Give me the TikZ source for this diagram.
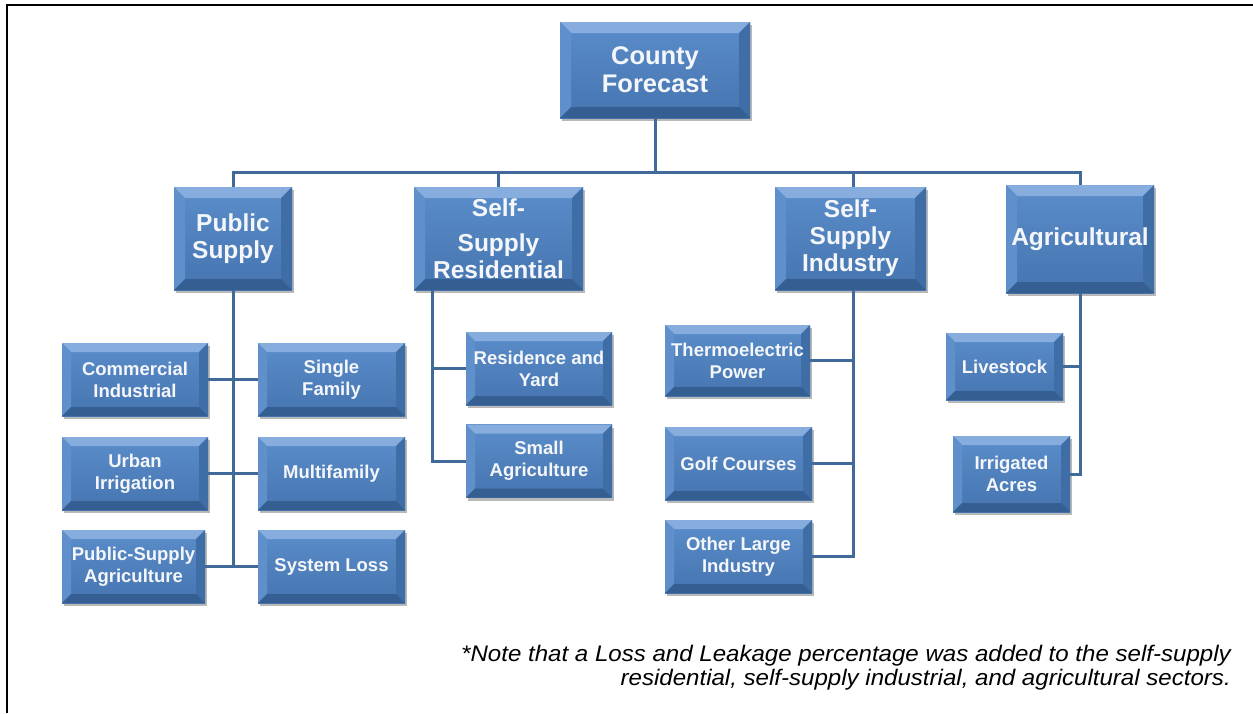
\documentclass[tikz,border=0pt]{standalone}
\usepackage{fontspec}
\setmainfont{Liberation Sans}
\usetikzlibrary{calc,shadows}
\definecolor{facetop}{HTML}{5A8DCA}
\definecolor{facebot}{HTML}{4675B0}
\definecolor{bevtop}{HTML}{86ADDD}
\definecolor{bevleft}{HTML}{5F90CC}
\definecolor{bevright}{HTML}{3F6EA7}
\definecolor{bevbot}{HTML}{355F93}
\definecolor{connc}{HTML}{41699A}
\definecolor{boxtext}{HTML}{F4F6F9}
\newcommand\bevelpaint[1]{%
  \path (path picture bounding box.south west) coordinate (@sw)
        (path picture bounding box.north east) coordinate (@ne)
        (path picture bounding box.north west) coordinate (@nw)
        (path picture bounding box.south east) coordinate (@se);
  \shade[top color=facetop,bottom color=facebot] (@sw) rectangle (@ne);
  \fill[bevtop] (@nw) -- (@ne) -- ($(@ne)+(-#1,-#1)$) -- ($(@nw)+(#1,-#1)$) -- cycle;
  \fill[bevleft] (@nw) -- (@sw) -- ($(@sw)+(#1,#1)$) -- ($(@nw)+(#1,-#1)$) -- cycle;
  \fill[bevright] (@ne) -- (@se) -- ($(@se)+(-#1,#1)$) -- ($(@ne)+(-#1,-#1)$) -- cycle;
  \fill[bevbot] (@sw) -- (@se) -- ($(@se)+(-#1,#1)$) -- ($(@sw)+(#1,#1)$) -- cycle;
}
\tikzset{
  bevelbox/.style={rectangle, inner sep=0pt, text=boxtext, align=center,
    fill=facebot,
    drop shadow={shadow xshift=1.5pt, shadow yshift=-3pt, opacity=0.28, fill=black},
    path picture={\bevelpaint{#1}}},
  bigbox/.style={bevelbox=11pt, font=\fontsize{24.5}{27}\selectfont\bfseries},
  smallbox/.style={bevelbox=9pt, font=\fontsize{18.5}{22}\selectfont\bfseries},
  sz/.style 2 args={minimum width=#1pt, minimum height=#2pt},
  conn/.style={draw=connc, line width=3pt},
  notetext/.style={anchor=base east, inner sep=0pt, font=\fontsize{22.5}{25}\selectfont\itshape}
}
\begin{document}
\begin{tikzpicture}[x=1pt,y=-1pt]
\useasboundingbox (0,0) rectangle (1253,713);
\draw[line width=2.5pt] (1253,5) -- (7,5) -- (7,713);

% top level
\node[bigbox, sz={190}{96}, font=\fontsize{25.5}{28}\selectfont\bfseries] (county) at (655,70) {County\\Forecast};
\node[bigbox, sz={118}{103}] (ps) at (233,238.5) {Public\\Supply};
\node[bigbox, sz={169}{103}] (ssr) at (498.5,238.5) {Self-\\[8pt]Supply\\Residential};
\node[bigbox, sz={151}{103}] (ssi) at (850.5,238.5) {Self-\\Supply\\Industry};
\node[bigbox, sz={148}{108}] (ag) at (1080,239) {Agricultural};

% public supply children
\node[smallbox, sz={146}{73}] (ci) at (135,379.5) {Commercial\\Industrial};
\node[smallbox, sz={147}{73}] (sf) at (331.5,379.5) {Single\\Family};
\node[smallbox, sz={146}{73}] (ui) at (135,473.5) {Urban\\Irrigation};
\node[smallbox, sz={147}{73}] (mf) at (331.5,473.5) {Multifamily};
\node[smallbox, sz={143}{73}] (psa) at (133.5,566.5) {Public-Supply\\Agriculture};
\node[smallbox, sz={147}{73}] (sl) at (331.5,566.5) {System Loss};

% self-supply residential children
\node[smallbox, sz={146}{73}] (ry) at (539,368.5) {Residence and\\Yard};
\node[smallbox, sz={146}{73}] (sa) at (539,461) {Small\\Agriculture};

% self-supply industry children
\node[smallbox, sz={145}{71}] (te) at (737.5,360.5) {Thermoelectric\\Power};
\node[smallbox, sz={147}{73}] (gc) at (738.5,463.5) {Golf Courses};
\node[smallbox, sz={147}{73}] (ol) at (738.5,556.5) {Other Large\\Industry};

% agricultural children
\node[smallbox, sz={117}{67}] (ls) at (1004.5,366.5) {Livestock};
\node[smallbox, sz={117}{76}] (ia) at (1011.5,474) {Irrigated\\Acres};

% connectors
\coordinate (bus) at (655,172);
\draw[conn] (county.south) -- (bus);
\draw[conn] (ps.north) |- (bus) -| (ag.north);
\draw[conn] (bus) -| (ssr.north);
\draw[conn] (bus) -| ($(ssi.north)+(2.5pt,0)$);

\draw[conn] (ps.south) -- (ps.south |- psa.east);
\draw[conn] (ci) -- (sf);
\draw[conn] (ui) -- (mf);
\draw[conn] (psa) -- (sl);

\coordinate (ssrT) at ($(ssr.south west)+(19pt,0)$);
\draw[conn] (ssrT) |- (ry.west);
\draw[conn] (ssrT) |- (sa.west);

\coordinate (ssiT) at ($(ssi.south)+(2.5pt,0)$);
\draw[conn] (ssiT) |- (te.east);
\draw[conn] (ssiT) |- (gc.east);
\draw[conn] (ssiT) |- (ol.east);

\draw[conn] (ag.south) |- (ls.east);
\draw[conn] (ag.south) |- (ia.east);

% note
\node[notetext] (note1) at (1231,661) {\scalebox{1.07}[1]{*Note that a Loss and Leakage percentage was added to the self-supply}};
\node[notetext] (note2) at (1231,685) {\scalebox{1.07}[1]{residential, self-supply industrial, and agricultural sectors.}};
\end{tikzpicture}
\end{document}
